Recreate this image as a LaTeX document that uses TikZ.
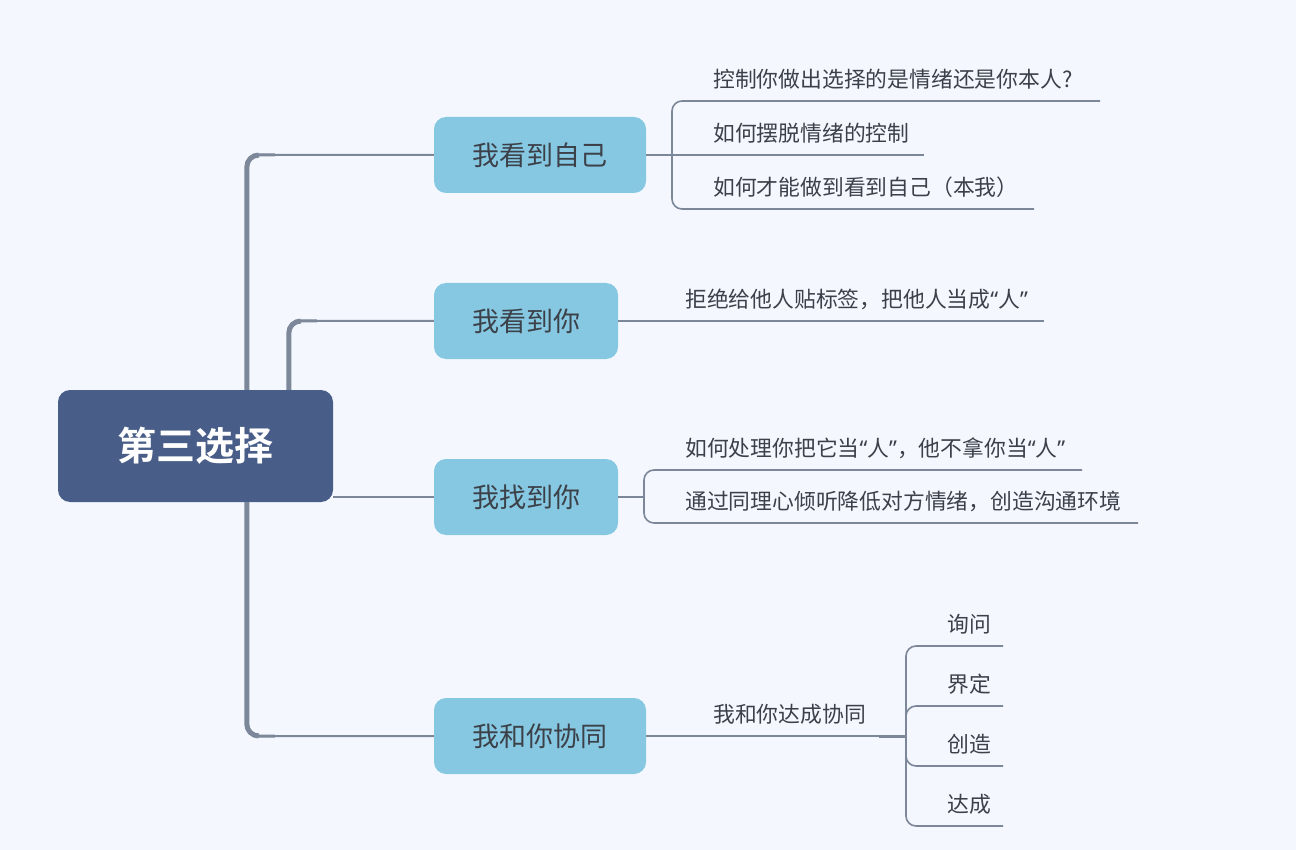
\documentclass[tikz,border=0pt]{standalone}
\usepackage{fontspec}
\newfontfamily\cjk{Noto Sans CJK SC}[BoldFont={Noto Sans CJK SC Bold}]
\newfontfamily\latq{Noto Sans}
\newcommand\myoq{{\latq “}}
\newcommand\mycq{{\latq ”}}
\usetikzlibrary{calc}
\definecolor{bg}{HTML}{F4F8FE}
\definecolor{rootc}{HTML}{485D87}
\definecolor{branchc}{HTML}{86C8E2}
\definecolor{linec}{HTML}{7C8799}
\definecolor{txt}{HTML}{3C4149}
\tikzset{
  rootbox/.style={fill=rootc, rounded corners=12pt, minimum width=275pt, minimum height=112pt, inner sep=0pt, text=white, font=\cjk\bfseries\fontsize{39}{42}\selectfont},
  branchbox/.style={fill=branchc, rounded corners=12pt, minimum height=76pt, inner sep=0pt, text=txt, font=\cjk\fontsize{27}{30}\selectfont},
  subtxt/.style={anchor=west, inner sep=0pt, text=txt, font=\cjk\fontsize{21.8}{24}\selectfont},
  trunk/.style={draw=linec, line width=5pt},
  midtrunk/.style={draw=linec, line width=3pt},
  thin/.style={draw=linec, line width=2pt},
  sub/.style={draw=linec, line width=1.6pt, rounded corners=10pt},
}
\begin{document}
\begin{tikzpicture}[x=1pt, y=-1pt]
\useasboundingbox[fill=bg] (0,0) rectangle (1296,850);

% root
\node[rootbox] (root) at (195.5,446) {第三选择};

% branches
\node[branchbox, minimum width=212pt] (b1) at (540,155) {我看到自己};
\node[branchbox, minimum width=184pt] (b2) at (526,321) {我看到你};
\node[branchbox, minimum width=184pt] (b3) at (526,497) {我找到你};
\node[branchbox, minimum width=212pt] (b4) at (540,736) {我和你协同};

% trunk connectors
\coordinate (r1) at ($(root.north west)+(189,0)$);
\coordinate (r2) at ($(root.north west)+(231,0)$);
\coordinate (r4) at ($(root.south west)+(189,0)$);
\coordinate (r3) at (root.east |- b3.west);
\draw[thin, rounded corners=12pt] (r1) |- (b1.west);
\draw[midtrunk, rounded corners=12pt] (r1) |- ($(r1 |- b1.west)+(28,0)$);
\draw[trunk, rounded corners=12pt] (r1) |- ($(r1 |- b1.west)+(12,0)$);
\draw[thin, rounded corners=12pt] (r2) |- (b2.west);
\draw[midtrunk, rounded corners=12pt] (r2) |- ($(r2 |- b2.west)+(28,0)$);
\draw[trunk, rounded corners=12pt] (r2) |- ($(r2 |- b2.west)+(12,0)$);
\draw[thin] (r3) -- (b3.west);
\draw[thin, rounded corners=12pt] (r4) |- (b4.west);
\draw[midtrunk, rounded corners=12pt] (r4) |- ($(r4 |- b4.west)+(28,0)$);
\draw[trunk, rounded corners=12pt] (r4) |- ($(r4 |- b4.west)+(12,0)$);

% branch 1 subtopics
\coordinate (j1) at (672,155);
\coordinate (e11) at (1100,101);
\coordinate (e12) at (924,155);
\coordinate (e13) at (1034,209);
\draw[thin] (b1.east) -- (j1);
\draw[sub] (j1) |- (e11);
\draw[sub] (j1) -- (e12);
\draw[sub] (j1) |- (e13);
\node[subtxt] (t11) at (713,79) {控制你做出选择的是情绪还是你本人?};
\node[subtxt] (t12) at (713,133) {如何摆脱情绪的控制};
\node[subtxt] (t13) at (713,187) {如何才能做到看到自己（本我）};

% branch 2
\coordinate (e21) at (1044,321);
\draw[sub] (b2.east) -- (e21);
\node[subtxt] (t21) at (685,299) {拒绝给他人贴标签，把他人当成\myoq 人\mycq};

% branch 3
\coordinate (j3) at (644,497);
\coordinate (e31) at (1082,470);
\coordinate (e32) at (1138,523);
\draw[thin] (b3.east) -- (j3);
\draw[sub] (j3) |- (e31);
\draw[sub] (j3) |- (e32);
\node[subtxt] (t31) at (685,448) {如何处理你把它当\myoq 人\mycq，他不拿你当\myoq 人\mycq};
\node[subtxt] (t32) at (685,501) {通过同理心倾听降低对方情绪，创造沟通环境};

% branch 4
\coordinate (j4) at (906,736);
\draw[sub] (b4.east) -- (j4);
\draw[draw=linec, line width=3pt] ($(j4)+(-27,0)$) -- (j4);
\node[subtxt] (t4) at (713,714) {我和你达成协同};
\coordinate (e41) at (1003,646);
\coordinate (e42) at (1003,706);
\coordinate (e43) at (1003,766);
\coordinate (e44) at (1003,826);
\draw[sub] (j4) |- (e41);
\draw[sub] (j4) |- (e42);
\draw[sub] (j4) |- (e43);
\draw[sub] (j4) |- (e44);
\node[subtxt] (l1) at (947,624) {询问};
\node[subtxt] (l2) at (947,684) {界定};
\node[subtxt] (l3) at (947,744) {创造};
\node[subtxt] (l4) at (947,804) {达成};
\end{tikzpicture}
\end{document}
